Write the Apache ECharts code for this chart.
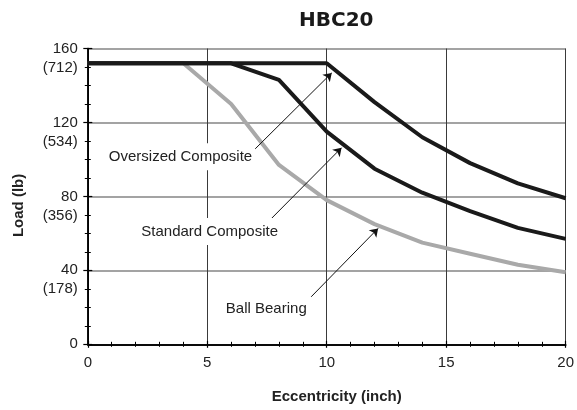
<!DOCTYPE html>
<html>
<head>
<meta charset="utf-8">
<script src="https://cdn.jsdelivr.net/npm/echarts@6/dist/echarts.min.js"></script>
<style>html,body{margin:0;padding:0;background:#fff}#c{width:577px;height:410px}</style>
</head>
<body>
<div id="c"></div>
<script>
var eccentricity = [0, 2, 4, 6, 8, 10, 12, 14, 16, 18, 20];
var oversizedComposite = [152, 152, 152, 152, 152, 152, 131, 112, 98, 87, 79];
var standardComposite  = [152, 152, 152, 152, 143, 115, 95, 82, 72, 63, 57];
var ballBearing        = [152, 152, 152, 130, 97, 78, 65, 55, 49, 43, 39];
var yTickValues = [0, 40, 80, 120, 160];
var yTickLabels = ['0', '40\n(178)', '80\n(356)', '120\n(534)', '160\n(712)'];
var xTickValues = [0, 5, 10, 15, 20];
var xTickLabels = ['0', '5', '10', '15', '20'];

var labelTexts = ['Oversized Composite', 'Standard Composite', 'Ball Bearing'];
var labelAt = [[3.88, 101.5], [5.1, 61], [7.47, 19.4]];
var arrowFrom = [[6.95, 105], [7.69, 68.1], [9.35, 25.7]];
var arrowTo = [[10.21, 146.8], [10.62, 106.3], [12.15, 62.7]];

function pair(vals, labs) { var m = {}; vals.forEach(function (v, i) { m[v] = labs[i]; }); return m; }
var yLab = pair(yTickValues, yTickLabels);
var xLab = pair(xTickValues, xTickLabels);

function zip(xs, ys) { return xs.map(function (x, i) { return [x, ys[i]]; }); }

var FONT = '"Liberation Sans", Arial, sans-serif';
var chart = echarts.init(document.getElementById('c'), null, { renderer: 'canvas' });

var xBase = {
  type: 'value', min: 0, max: 20, interval: 5,
  axisLine: { show: true, onZero: false, lineStyle: { color: '#000', width: 1.5 } },
  minorTick: { show: true, splitNumber: 5, length: 2.5, lineStyle: { color: '#000', width: 1 } },
  axisTick: { show: true, length: 3.5, lineStyle: { color: '#000', width: 1.2 } }
};
var yBase = {
  type: 'value', min: 0, max: 160, interval: 40,
  axisLine: { show: true, onZero: false, lineStyle: { color: '#000', width: 1.5 } },
  minorTick: { show: true, splitNumber: 4, length: 3, lineStyle: { color: '#000', width: 1 } },
  axisTick: { show: true, length: 4.5, lineStyle: { color: '#000', width: 1.2 } }
};

var option = {
  backgroundColor: '#fff',
  animation: false,
  title: {
    text: 'HBC20', left: 294, top: 6,
    textStyle: { fontFamily: '"DejaVu Sans", sans-serif', fontWeight: 'bold', fontSize: 20, color: '#1a1a1a' }
  },
  grid: { left: 87.8, right: 8.3, top: 48.5, bottom: 65.7, containLabel: false },
  xAxis: [
    Object.assign({}, xBase, {
      name: 'Eccentricity (inch)', nameLocation: 'middle', nameGap: 45,
      nameTextStyle: { fontFamily: FONT, fontWeight: 'bold', fontSize: 15, color: '#222', padding: [0, 0, 0, 20] },
      axisLabel: { margin: 11, fontFamily: FONT, fontSize: 15, color: '#222', formatter: function (v) { return xLab[v] !== undefined ? xLab[v] : ''; } },
      splitLine: { show: true, lineStyle: { color: '#3a3a3a', width: 1 } }
    }),
    Object.assign({}, xBase, {
      position: 'bottom', axisLabel: { show: false }, splitLine: { show: false },
      axisTick: Object.assign({}, xBase.axisTick, { inside: true })
    })
  ],
  yAxis: [
    Object.assign({}, yBase, {
      name: 'Load (lb)', nameLocation: 'middle', nameGap: 61, nameRotate: 90,
      nameTextStyle: { fontFamily: FONT, fontWeight: 'bold', fontSize: 15, color: '#222', padding: [0, 18, 0, 0] },
      axisLabel: {
        margin: 10, fontFamily: FONT, fontSize: 15, color: '#222', lineHeight: 19, align: 'right',
        formatter: function (v) {
          var s = yLab[v];
          if (s === undefined) return '';
          return s.indexOf('\n') >= 0 ? ' \n' + s : s;
        }
      },
      splitLine: { show: true, lineStyle: { color: '#858585', width: 1.5 } }
    }),
    Object.assign({}, yBase, {
      position: 'left', axisLabel: { show: false }, splitLine: { show: false },
      axisTick: Object.assign({}, yBase.axisTick, { inside: true })
    })
  ],
  series: [
    {
      name: 'Ball Bearing', type: 'line', data: zip(eccentricity, ballBearing),
      showSymbol: false, symbol: 'none', lineStyle: { color: '#a9a9a9', width: 4 }, z: 2
    },
    {
      name: 'Standard Composite', type: 'line', data: zip(eccentricity, standardComposite),
      showSymbol: false, symbol: 'none', lineStyle: { color: '#1a1a1a', width: 4 }, z: 3
    },
    {
      name: 'Oversized Composite', type: 'line', data: zip(eccentricity, oversizedComposite),
      showSymbol: false, symbol: 'none', lineStyle: { color: '#1a1a1a', width: 4 }, z: 4
    },
    {
      name: 'annotations', type: 'line', data: [], z: 5, silent: true,
      markLine: {
        silent: true, symbol: ['none', 'arrow'], symbolSize: 8, precision: 3,
        itemStyle: { color: '#111' },
        lineStyle: { color: '#111', width: 1, type: 'solid' }, label: { show: false },
        data: arrowFrom.map(function (f, i) { return [{ coord: f }, { coord: arrowTo[i] }]; })
      },
      markPoint: {
        silent: true, symbol: 'circle', symbolSize: 0,
        label: {
          show: true, position: 'inside', fontFamily: FONT, fontSize: 15, color: '#222',
          backgroundColor: '#fff', padding: [6, 3, 6, 3], formatter: function (p) { return p.name; }
        },
        data: labelAt.map(function (c, i) { return { name: labelTexts[i], coord: c }; })
      }
    }
  ]
};
chart.setOption(option);
</script>
</body>
</html>
